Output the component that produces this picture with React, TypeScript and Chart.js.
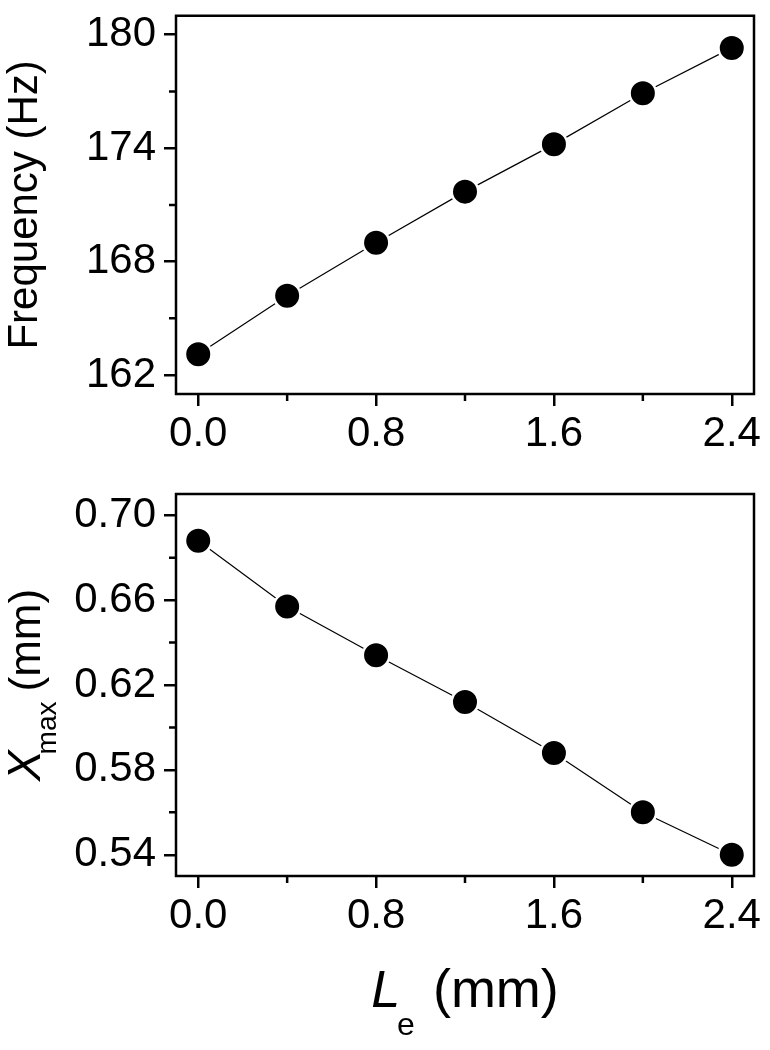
import React, { useEffect, useRef } from 'react';
import { Chart, registerables } from 'chart.js';

Chart.register(...registerables);

const FONT = '"Liberation Sans", Arial, Helvetica, sans-serif';

// ---- data ----
const leMm = [0, 0.4, 0.8, 1.2, 1.6, 2.0, 2.4];
const frequencyHz = [163.1, 166.2, 169.0, 171.7, 174.2, 176.9, 179.3];
const xmaxMm = [0.688, 0.657, 0.634, 0.612, 0.588, 0.56, 0.54];

// ---- ticks / ranges ----
const xRange = [-0.1, 2.5];
const xMajorTicks = [0, 0.8, 1.6, 2.4];
const xMinorTicks = [0.4, 1.2, 2.0];
const freqRange = [161, 181];
const freqMajorTicks = [162, 168, 174, 180];
const freqMinorTicks = [165, 171, 177];
const xmaxRange = [0.53, 0.71];
const xmaxMajorTicks = [0.54, 0.58, 0.62, 0.66, 0.7];
const xmaxMinorTicks = [0.56, 0.6, 0.64, 0.68];

type Spec = {
  width: number;
  height: number;
  areaLeft: number;
  areaTop: number;
  areaRight: number;
  areaBottom: number;
  values: number[];
  yRange: number[];
  yMajor: number[];
  yMinor: number[];
  yFormat: (v: number) => string;
  drawTitles: (ctx: CanvasRenderingContext2D, chart: any) => void;
};

function drawFrequencyTitle(ctx: CanvasRenderingContext2D, chart: any) {
  const a = chart.chartArea;
  ctx.save();
  ctx.translate(37, (a.top + a.bottom) / 2);
  ctx.rotate(-Math.PI / 2);
  ctx.fillStyle = '#000';
  ctx.font = `42px ${FONT}`;
  ctx.textAlign = 'center';
  ctx.textBaseline = 'alphabetic';
  ctx.fillText('Frequency (Hz)', 0, 0);
  ctx.restore();
}

function drawXmaxTitles(ctx: CanvasRenderingContext2D, chart: any) {
  const a = chart.chartArea;
  // y-axis title: X_max (mm), rotated
  ctx.save();
  ctx.translate(40, (a.top + a.bottom) / 2);
  ctx.rotate(-Math.PI / 2);
  ctx.fillStyle = '#000';
  ctx.textAlign = 'left';
  ctx.textBaseline = 'alphabetic';
  ctx.font = `italic 46px ${FONT}`;
  const wX = ctx.measureText('X').width;
  ctx.font = `28px ${FONT}`;
  const wSub = ctx.measureText('max').width;
  ctx.font = `44px ${FONT}`;
  const wMM = ctx.measureText('(mm)').width;
  const overlap = 4;
  const gap = 10;
  const total = wX - overlap + wSub + gap + wMM;
  let x = -total / 2;
  ctx.font = `italic 46px ${FONT}`;
  ctx.fillText('X', x, 0);
  x += wX - overlap;
  ctx.font = `28px ${FONT}`;
  ctx.fillText('max', x, 16);
  x += wSub + gap;
  ctx.font = `44px ${FONT}`;
  ctx.fillText('(mm)', x, 0);
  ctx.restore();

  // x-axis title: L_e (mm)
  ctx.save();
  ctx.fillStyle = '#000';
  ctx.textAlign = 'left';
  ctx.textBaseline = 'alphabetic';
  const cx = (a.left + a.right) / 2;
  const base = a.bottom + 131;
  ctx.font = `italic 52px ${FONT}`;
  const wL = ctx.measureText('L').width;
  ctx.font = `32px ${FONT}`;
  const wE = ctx.measureText('e').width;
  ctx.font = `54px ${FONT}`;
  const wP = ctx.measureText('(mm)').width;
  const g1 = -3;
  const g2 = 18;
  const tot = wL + g1 + wE + g2 + wP;
  let px = cx - tot / 2;
  ctx.font = `italic 52px ${FONT}`;
  ctx.fillText('L', px, base);
  px += wL + g1;
  ctx.font = `32px ${FONT}`;
  ctx.fillText('e', px, base + 28);
  px += wE + g2;
  ctx.font = `54px ${FONT}`;
  ctx.fillText('(mm)', px, base);
  ctx.restore();
}

function makeChart(canvas: HTMLCanvasElement, spec: Spec) {
  const framePlugin = {
    id: 'frameAndMinor',
    afterDraw(chart: any) {
      const { ctx, chartArea: a, scales } = chart;
      ctx.save();
      ctx.strokeStyle = '#000';
      ctx.lineWidth = 2.5;
      ctx.strokeRect(a.left, a.top, a.right - a.left, a.bottom - a.top);
      ctx.beginPath();
      for (const v of xMinorTicks) {
        const p = scales.x.getPixelForValue(v);
        ctx.moveTo(p, a.bottom);
        ctx.lineTo(p, a.bottom + 7);
      }
      for (const v of spec.yMinor) {
        const p = scales.y.getPixelForValue(v);
        ctx.moveTo(a.left, p);
        ctx.lineTo(a.left - 7, p);
      }
      ctx.stroke();
      ctx.restore();
      spec.drawTitles(ctx, chart);
    },
  };

  return new Chart(canvas, {
    type: 'line',
    data: {
      datasets: [
        {
          data: leMm.map((x, i) => ({ x, y: spec.values[i] })),
          borderColor: '#000',
          borderWidth: 1.2,
          tension: 0,
          pointRadius: 13.25,
          pointHoverRadius: 13.25,
          pointBorderWidth: 2.5,
          pointBorderColor: '#fff',
          pointBackgroundColor: '#000',
          clip: false as any,
        },
      ],
    },
    options: {
      responsive: false,
      animation: false,
      events: [],
      layout: {
        padding: {
          left: 0,
          top: spec.areaTop,
          right: spec.width - spec.areaRight,
          bottom: 0,
        },
      },
      plugins: {
        legend: { display: false },
        tooltip: { enabled: false },
        title: { display: false },
      },
      scales: {
        x: {
          type: 'linear',
          min: xRange[0],
          max: xRange[1],
          afterBuildTicks: (s: any) => {
            s.ticks = xMajorTicks.map((value) => ({ value }));
          },
          afterFit: (s: any) => {
            s.height = spec.height - spec.areaBottom;
            s.paddingLeft = 0;
            s.paddingRight = 0;
          },
          grid: {
            drawOnChartArea: false,
            drawTicks: true,
            tickLength: 12,
            lineWidth: 2.5,
            tickWidth: 2.5,
            color: '#000',
            tickColor: '#000',
          },
          border: { display: false },
          ticks: {
            color: '#000',
            font: { size: 42, family: FONT },
            padding: 3,
            maxRotation: 0,
            autoSkip: false,
            callback: (v: any) => Number(v).toFixed(1),
          },
        },
        y: {
          type: 'linear',
          min: spec.yRange[0],
          max: spec.yRange[1],
          afterBuildTicks: (s: any) => {
            s.ticks = spec.yMajor.map((value) => ({ value }));
          },
          afterFit: (s: any) => {
            s.width = spec.areaLeft;
            s.paddingTop = 0;
            s.paddingBottom = 0;
          },
          grid: {
            drawOnChartArea: false,
            drawTicks: true,
            tickLength: 12,
            lineWidth: 2.5,
            tickWidth: 2.5,
            color: '#000',
            tickColor: '#000',
          },
          border: { display: false },
          ticks: {
            color: '#000',
            font: { size: 42, family: FONT },
            padding: 8,
            autoSkip: false,
            callback: (v: any) => spec.yFormat(Number(v)),
          },
        },
      },
    } as any,
    plugins: [framePlugin],
  });
}

export default function App() {
  const topRef = useRef<HTMLCanvasElement>(null);
  const botRef = useRef<HTMLCanvasElement>(null);

  useEffect(() => {
    const c1 = makeChart(topRef.current!, {
      width: 770,
      height: 470,
      areaLeft: 176,
      areaTop: 13,
      areaRight: 754,
      areaBottom: 394,
      values: frequencyHz,
      yRange: freqRange,
      yMajor: freqMajorTicks,
      yMinor: freqMinorTicks,
      yFormat: (v) => v.toFixed(0),
      drawTitles: drawFrequencyTitle,
    });
    const c2 = makeChart(botRef.current!, {
      width: 770,
      height: 580,
      areaLeft: 176,
      areaTop: 24,
      areaRight: 754,
      areaBottom: 406,
      values: xmaxMm,
      yRange: xmaxRange,
      yMajor: xmaxMajorTicks,
      yMinor: xmaxMinorTicks,
      yFormat: (v) => v.toFixed(2),
      drawTitles: drawXmaxTitles,
    });
    return () => {
      c1.destroy();
      c2.destroy();
    };
  }, []);

  return (
    <div style={{ position: 'absolute', left: 0, top: 0, width: 770, height: 1050, background: '#fff' }}>
      <canvas ref={topRef} width={770} height={470} style={{ position: 'absolute', left: 0, top: 0, width: 770, height: 470 }} />
      <canvas ref={botRef} width={770} height={580} style={{ position: 'absolute', left: 0, top: 470, width: 770, height: 580 }} />
    </div>
  );
}
